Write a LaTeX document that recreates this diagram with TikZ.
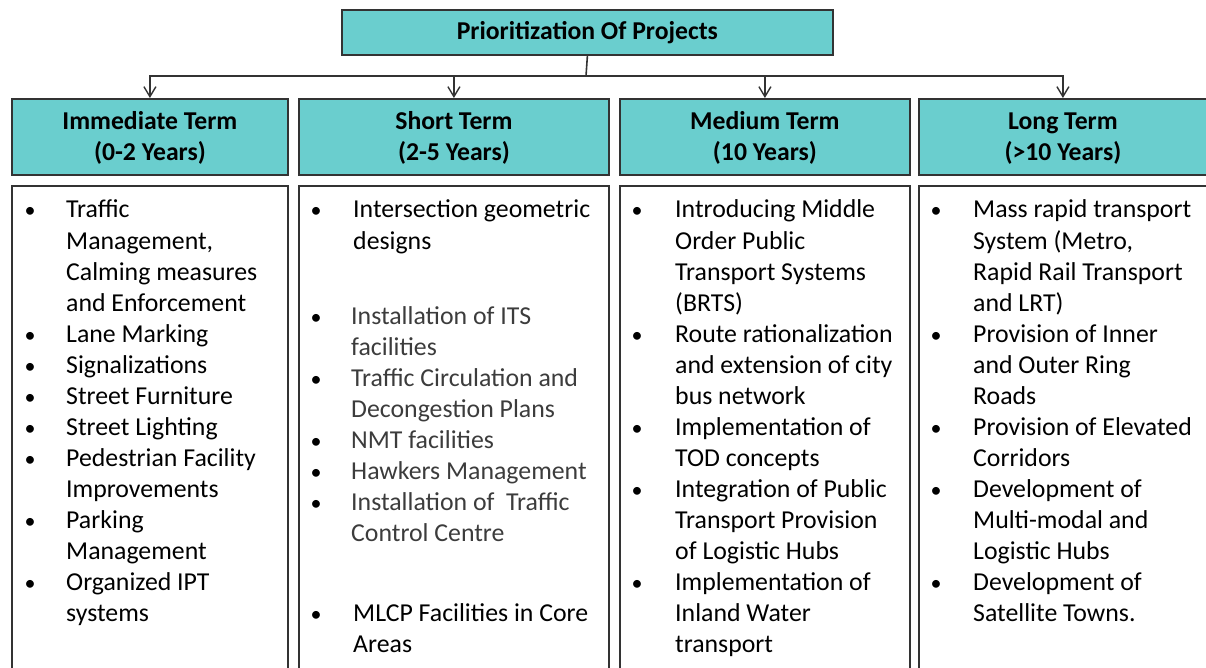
\documentclass[tikz,border=0pt]{standalone}
\usepackage{fontspec}
\setmainfont{Carlito}
\usetikzlibrary{arrows.meta}
\definecolor{tealfill}{HTML}{6ACECE}
\definecolor{edgegray}{HTML}{333333}
\definecolor{softtext}{HTML}{3C3C3C}
% first-line strut of a heading, a little taller than \strut
\newcommand\headstrut{\rule{0pt}{26pt}}
\begin{document}
\begin{tikzpicture}[x=1pt,y=-1pt,
  box/.style={draw=edgegray, line width=1.8pt, inner sep=0pt, anchor=north west},
  headbox/.style={box, fill=tealfill, align=center,
    font=\bfseries\fontsize{25.7}{31}\selectfont},
  bodybox/.style={box, fill=white},
  txt/.style={anchor=base west, inner sep=0pt, font=\fontsize{25.8}{31}\selectfont},
  softtxt/.style={txt, text=softtext},
  bul/.style={anchor=base, inner sep=0pt, font=\fontsize{22}{31}\selectfont},
  link/.style={draw=edgegray, line width=1.6pt},
  arr/.style={link, -{Straight Barb[length=10pt,width=12pt,line width=1.4pt]}}
]
\useasboundingbox (0,0) rectangle (1206,668);
\clip (0,0) rectangle (1206,668);

% root and the four term headings
\node[headbox, minimum width=491, minimum height=45] (top) at (341,9) {Prioritization Of Projects};
\node[headbox, minimum width=276, minimum height=76] (h1) at (11,98) {\headstrut Immediate Term\\\strut(0-2 Years)};
\node[headbox, minimum width=310, minimum height=76] (h2) at (298,98) {\headstrut Short Term\\\strut(2-5 Years)};
\node[headbox, minimum width=290, minimum height=76] (h3) at (619,98) {\headstrut Medium Term\\\strut(10 Years)};
\node[headbox, minimum width=288, minimum height=76] (h4) at (918,98) {\headstrut Long Term\\\strut(>10 Years)};

% list panels, running past the lower edge
\node[bodybox, minimum width=276, minimum height=500] (b1) at (11,185) {};
\node[bodybox, minimum width=310, minimum height=500] (b2) at (298,185) {};
\node[bodybox, minimum width=290, minimum height=500] (b3) at (619,185) {};
\node[bodybox, minimum width=288, minimum height=500] (b4) at (918,185) {};

% connectors from the root
\coordinate (bus) at (586,76);
\draw[link] (top.south) -- (bus);
\foreach \h in {h1,h2,h3,h4}
  \draw[arr] (bus) -| (\h.north);

% immediate term
\foreach \y [count=\i] in {209,333,364,395,426,457,519,581}
  \node[bul] (p1-\i) at (30,\y+9) {•};
\foreach \y/\t [count=\i] in {209/Traffic, 240/{Management,}, 271/Calming measures,
    302/and Enforcement, 333/Lane Marking, 364/Signalizations, 395/Street Furniture,
    426/Street Lighting, 457/Pedestrian Facility, 488/Improvements, 519/Parking,
    550/Management, 581/Organized IPT, 612/systems}
  \node[txt] (t1-\i) at (66,\y+9) {\t};

% short term
\foreach \y [count=\i] in {209,315,377,439,470,501,612}
  \node[bul] (p2-\i) at (316,\y+9) {•};
\foreach \y/\t [count=\i] in {209/Intersection geometric, 240/designs,
    612/MLCP Facilities in Core, 643/Areas}
  \node[txt] (t2-\i) at (353,\y+9) {\t};
\foreach \y/\t [count=\i] in {315/Installation of ITS, 346/facilities,
    377/Traffic Circulation and, 408/Decongestion Plans, 439/NMT facilities,
    470/Hawkers Management, 501/Installation of\ \ Traffic, 532/Control Centre}
  \node[softtxt] (s2-\i) at (351,\y+9) {\t};

% medium term
\foreach \y [count=\i] in {209,333,426,488,581}
  \node[bul] (p3-\i) at (637,\y+9) {•};
\foreach \y/\t [count=\i] in {209/Introducing Middle, 240/Order Public,
    271/Transport Systems, 302/(BRTS), 333/Route rationalization,
    364/and extension of city, 395/bus network, 426/Implementation of,
    457/TOD concepts, 488/Integration of Public, 519/Transport Provision,
    550/of Logistic Hubs, 581/Implementation of, 612/Inland Water, 643/transport}
  \node[txt] (t3-\i) at (675,\y+9) {\t};

% long term
\foreach \y [count=\i] in {209,333,426,488,581}
  \node[bul] (p4-\i) at (936,\y+9) {•};
\foreach \y/\t [count=\i] in {209/Mass rapid transport, 240/{System (Metro,},
    271/Rapid Rail Transport, 302/and LRT), 333/Provision of Inner,
    364/and Outer Ring, 395/Roads, 426/Provision of Elevated, 457/Corridors,
    488/Development of, 519/Multi-modal and, 550/Logistic Hubs,
    581/Development of, 612/Satellite Towns.}
  \node[txt] (t4-\i) at (973,\y+9) {\t};
\end{tikzpicture}
\end{document}
